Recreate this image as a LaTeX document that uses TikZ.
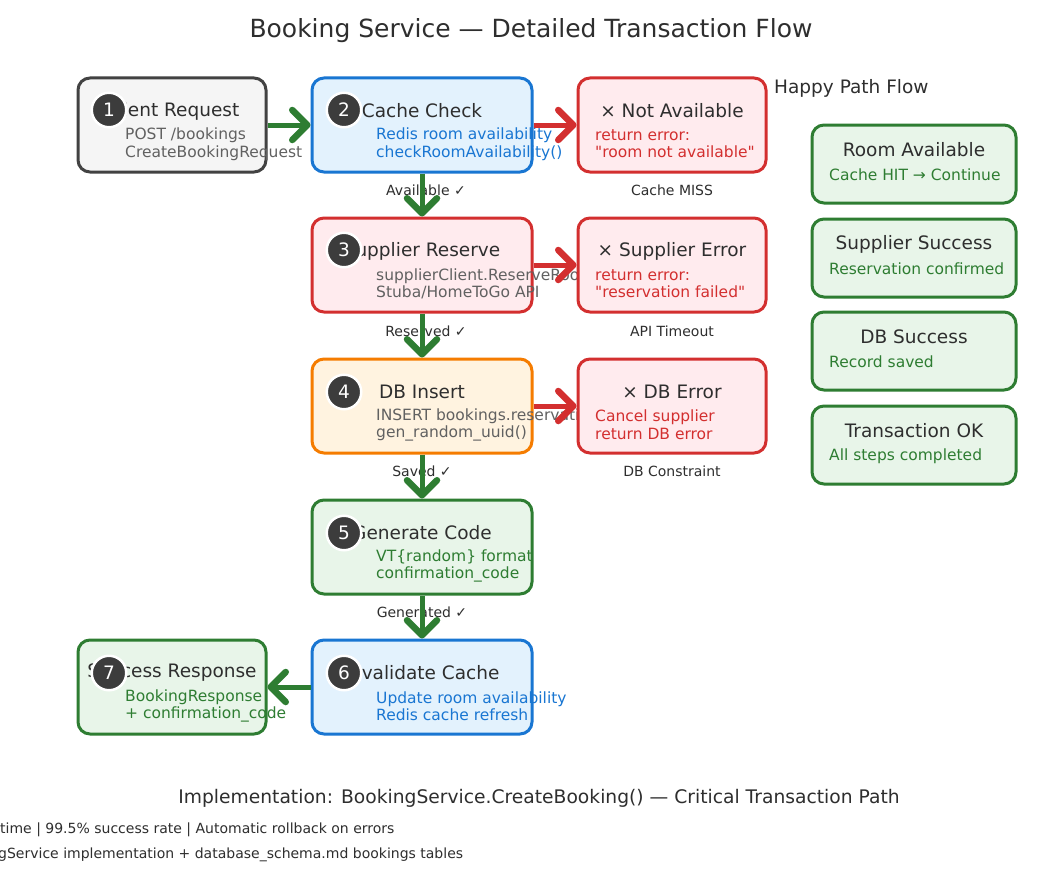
\documentclass[tikz,border=0pt]{standalone}
\usepackage{fontspec}
\setmainfont{DejaVu Sans}[Ligatures=TeXOff]
\usetikzlibrary{arrows.meta}
\definecolor{ink}{HTML}{2E2E2E}
\definecolor{subgray}{HTML}{616161}
\definecolor{bordgray}{HTML}{424242}
\definecolor{fillgray}{HTML}{F5F5F5}
\definecolor{bblue}{HTML}{1976D2}
\definecolor{fblue}{HTML}{E3F2FD}
\definecolor{bred}{HTML}{D32F2F}
\definecolor{fred}{HTML}{FFEBEE}
\definecolor{borange}{HTML}{F57C00}
\definecolor{forange}{HTML}{FFF3E0}
\definecolor{bgreen}{HTML}{2E7D32}
\definecolor{fgreen}{HTML}{E8F5E9}
\definecolor{arrgreen}{HTML}{2E7D32}
\definecolor{circ}{HTML}{3C3C3C}
\tikzset{
  boxbase/.style={rectangle, line width=3pt, rounded corners=12pt, inner sep=0pt},
  mainbox/.style={boxbase, minimum width=220pt, minimum height=94pt},
  sidebox/.style={boxbase, minimum width=188pt, minimum height=94pt},
  legbox/.style={boxbase, minimum width=204pt, minimum height=78pt, draw=bgreen, fill=fgreen},
  graybox/.style={draw=bordgray, fill=fillgray},
  bluebox/.style={draw=bblue, fill=fblue},
  redbox/.style={draw=bred, fill=fred},
  orangebox/.style={draw=borange, fill=forange},
  greenbox/.style={draw=bgreen, fill=fgreen},
  ttl/.style={inner sep=0pt, text=ink, font=\fontsize{18.5}{22}\selectfont},
  sub/.style={inner sep=0pt, anchor=west, align=left, font=\fontsize{15.5}{17.5}\selectfont},
  lbl/.style={inner sep=0pt, text=ink, font=\fontsize{14}{16}\selectfont},
  garrow/.style={draw=arrgreen, line width=5pt, -{Straight Barb[length=15pt, width=30pt, round, line width=6.5pt]}},
  rarrow/.style={draw=bred, line width=5pt, -{Straight Barb[length=15pt, width=30pt, round, line width=6.5pt]}},
  numc/.style={circle, fill=circ, draw=white, line width=2.5pt, minimum size=34.5pt, inner sep=0pt, text=white, font=\fontsize{18.5}{22}\selectfont}
}
\begin{document}
\begin{tikzpicture}[x=1pt, y=-1pt]
\useasboundingbox (0,0) rectangle (1063,875);
\fill[white] (0,0) rectangle (1063,875);

\node[ttl, font=\fontsize{25}{28}\selectfont] (title) at (531,31) {Booking Service — Detailed Transaction Flow};

% main column
\node[sidebox, graybox] (client) at (172,125) {};
\node[ttl] (clientT) at (172,111) {Client Request};
\node[sub, text=subgray] (clientS) at (125,144) {POST /bookings\\CreateBookingRequest};

\node[mainbox, bluebox] (cache) at (422,125) {};
\node[ttl] (cacheT) at (422,111) {Cache Check};
\node[sub, text=bblue] (cacheS) at (376,144) {Redis room availability\\checkRoomAvailability()};

\node[mainbox, redbox] (supp) at (422,265) {};
\node[ttl] (suppT) at (422,251) {Supplier Reserve};
\node[sub, text=subgray] (suppS) at (376,284) {supplierClient.ReserveRoom()\\Stuba/HomeToGo API};

\node[mainbox, orangebox] (db) at (422,406) {};
\node[ttl] (dbT) at (422,392) {DB Insert};
\node[sub, text=subgray] (dbS) at (376,425) {INSERT bookings.reservations\\gen\_random\_uuid()};

\node[mainbox, greenbox] (gen) at (422,547) {};
\node[ttl] (genT) at (422,533) {Generate Code};
\node[sub, text=bgreen] (genS) at (376,566) {VT\{random\} format\\confirmation\_code};

\node[mainbox, bluebox] (inval) at (422,687) {};
\node[ttl] (invalT) at (422,673) {Invalidate Cache};
\node[sub, text=bblue] (invalS) at (376,706) {Update room availability\\Redis cache refresh};

\node[sidebox, greenbox] (succ) at (172,687) {};
\node[ttl] (succT) at (172,673) {Success Response};
\node[sub, text=bgreen] (succS) at (125,706) {BookingResponse\\+ confirmation\_code};

% error column
\node[sidebox, redbox] (na) at (672,125) {};
\node[ttl] (naT) at (672,111) {× Not Available};
\node[sub, text=bred] (naS) at (595,143.5) {return error:\\"room not available"};

\node[sidebox, redbox] (se) at (672,265) {};
\node[ttl] (seT) at (672,251) {× Supplier Error};
\node[sub, text=bred] (seS) at (595,283.5) {return error:\\"reservation failed"};

\node[sidebox, redbox] (de) at (672,406) {};
\node[ttl] (deT) at (672,392) {× DB Error};
\node[sub, text=bred] (deS) at (595,424.5) {Cancel supplier\\return DB error};

% legend
\node[ttl, anchor=west] (happy) at (774,88) {Happy Path Flow};
\node[legbox] (l1) at (914,164) {};
\node[ttl] (l1T) at (914,150) {Room Available};
\node[sub, text=bgreen] (l1S) at (829,175) {Cache HIT → Continue};
\node[legbox] (l2) at (914,258) {};
\node[ttl] (l2T) at (914,244) {Supplier Success};
\node[sub, text=bgreen] (l2S) at (829,269) {Reservation confirmed};
\node[legbox] (l3) at (914,351) {};
\node[ttl] (l3T) at (914,337) {DB Success};
\node[sub, text=bgreen] (l3S) at (829,362) {Record saved};
\node[legbox] (l4) at (914,445) {};
\node[ttl] (l4T) at (914,431) {Transaction OK};
\node[sub, text=bgreen] (l4S) at (829,456) {All steps completed};

% labels
\node[lbl] (lab1) at (426,190) {Available ✓};
\node[lbl] (lab2) at (672,190) {Cache MISS};
\node[lbl] (lab3) at (426,331) {Reserved ✓};
\node[lbl] (lab4) at (672,331) {API Timeout};
\node[lbl] (lab5) at (422,471) {Saved ✓};
\node[lbl] (lab6) at (672,471) {DB Constraint};
\node[lbl] (lab7) at (422,612) {Generated ✓};

% arrows
\draw[garrow] (client.east) -- (cache.west);
\draw[garrow] (cache.south) -- (supp.north);
\draw[garrow] (supp.south) -- (db.north);
\draw[garrow] (db.south) -- (gen.north);
\draw[garrow] (gen.south) -- (inval.north);
\draw[garrow] (inval.west) -- (succ.east);
\draw[rarrow] (cache.east) -- (na.west);
\draw[rarrow] (supp.east) -- (se.west);
\draw[rarrow] (db.east) -- (de.west);

% number circles
\node[numc] (n1) at (109,110) {1};
\node[numc] (n2) at (344,110) {2};
\node[numc] (n3) at (344,250) {3};
\node[numc] (n4) at (344,392) {4};
\node[numc] (n5) at (344,533) {5};
\node[numc] (n6) at (344,673) {6};
\node[numc] (n7) at (109,673) {7};

% footer
\node[inner sep=0pt, text=ink, font=\fontsize{18.7}{22}\selectfont] (impl) at (539,798) {Implementation: BookingService.CreateBooking() — Critical Transaction Path};
\node[inner sep=0pt, anchor=west, text=ink, font=\fontsize{14}{17}\selectfont] (perf) at (0,830) {time | 99.5\% success rate | Automatic rollback on errors};
\node[inner sep=0pt, anchor=west, text=ink, font=\fontsize{14}{17}\selectfont] (src) at (-2,855) {gService implementation + database\_schema.md bookings tables};
\end{tikzpicture}
\end{document}
